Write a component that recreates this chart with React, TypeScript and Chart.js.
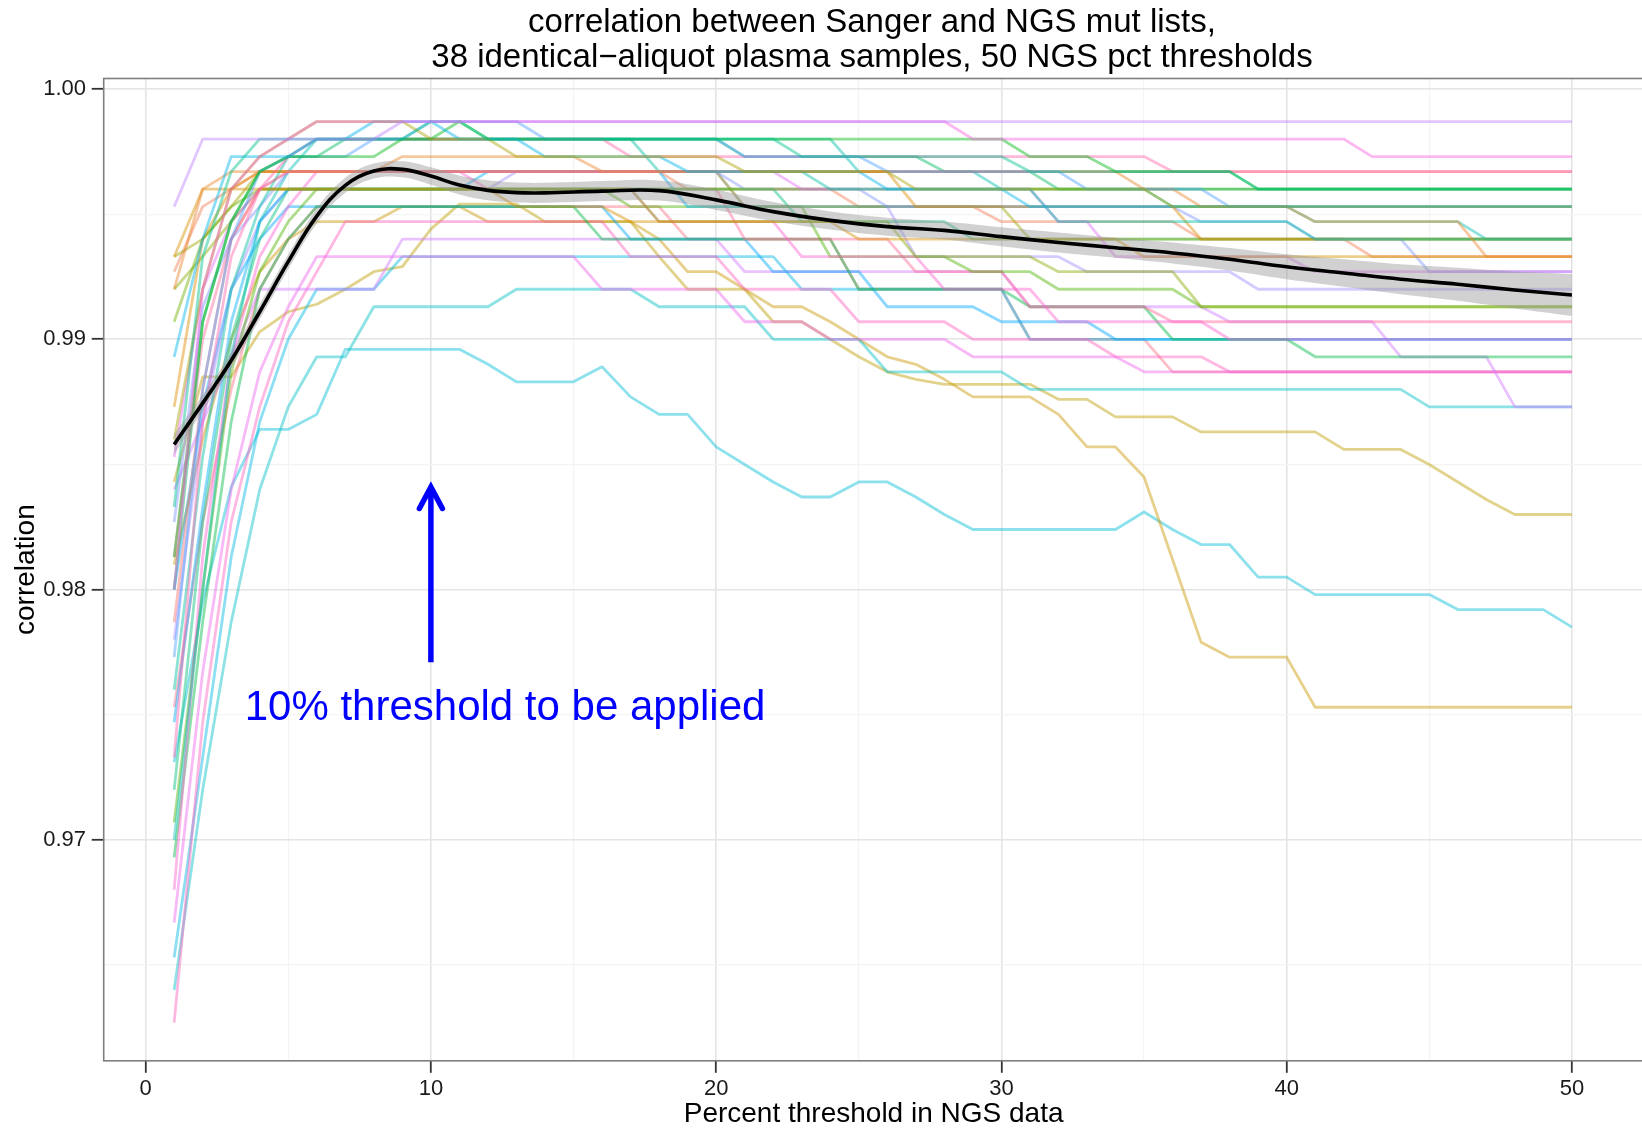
import React, { useEffect, useRef } from "react";
import { Chart, registerables } from "chart.js";

Chart.register(...registerables);

const FONT = '"Liberation Sans", Arial, Helvetica, sans-serif';

// ---------------- data ----------------
const thresholds = [
  1, 2, 3, 4, 5, 6, 7, 8, 9, 10, 11, 12, 13, 14, 15, 16, 17, 18, 19, 20,
  21, 22, 23, 24, 25, 26, 27, 28, 29, 30, 31, 32, 33, 34, 35, 36, 37, 38, 39, 40,
  41, 42, 43, 44, 45, 46, 47, 48, 49, 50,
];

const xTickValues = [0, 5, 10, 15, 20, 25, 30, 35, 40, 45, 50];
const xTickLabels = ["0", "", "10", "", "20", "", "30", "", "40", "", "50"];
const yTickValues = [0.965, 0.97, 0.975, 0.98, 0.985, 0.99, 0.995, 1.0];
const yTickLabels = ["", "0.97", "", "0.98", "", "0.99", "", "1.00"];

const titleLines = [
  "correlation between Sanger and NGS mut lists,",
  "38 identical\u2212aliquot plasma samples, 50 NGS pct thresholds",
];
const xAxisTitle = "Percent threshold in NGS data";
const yAxisTitle = "correlation";
const annotationText = "10% threshold to be applied";
const arrowX = 10;
const arrowYFrom = 0.9771;
const arrowYTo = 0.9841;
const annotationX = 12.6;
const annotationY = 0.9748;

const s01 = [0.9953,0.998,0.998,0.998,0.998,0.998,0.998,0.998,0.9987,0.9987,
  0.9987,0.9987,0.9987,0.9987,0.9987,0.9987,0.9987,0.9987,0.9987,0.9987,
  0.9987,0.9987,0.9987,0.9987,0.9987,0.9987,0.9987,0.9987,0.9987,0.9987,
  0.9987,0.9987,0.9987,0.9987,0.9987,0.9987,0.9987,0.9987,0.9987,0.9987,
  0.9987,0.9987,0.9987,0.9987,0.9987,0.9987,0.9987,0.9987,0.9987,0.9987];
const s02 = [0.98,0.992,0.996,0.9973,0.998,0.9987,0.9987,0.9987,0.9987,0.9987,
  0.9987,0.9987,0.9987,0.9987,0.9987,0.9987,0.9987,0.9987,0.9987,0.9987,
  0.9987,0.9987,0.9987,0.9987,0.9987,0.9987,0.9987,0.9987,0.998,0.998,
  0.998,0.998,0.998,0.998,0.998,0.998,0.998,0.998,0.998,0.998,
  0.998,0.998,0.9973,0.9973,0.9973,0.9973,0.9973,0.9973,0.9973,0.9973];
const s03 = [0.9833,0.9933,0.9967,0.998,0.998,0.998,0.998,0.998,0.998,0.9987,
  0.9987,0.998,0.998,0.998,0.998,0.998,0.998,0.998,0.998,0.998,
  0.998,0.998,0.9973,0.9973,0.9973,0.9973,0.9973,0.9973,0.9973,0.9973,
  0.9967,0.9967,0.9967,0.9967,0.9967,0.9967,0.9967,0.9967,0.996,0.996,
  0.996,0.996,0.996,0.996,0.996,0.996,0.996,0.996,0.996,0.996];
const s04 = [0.986,0.992,0.996,0.9973,0.998,0.9987,0.9987,0.9987,0.9987,0.998,
  0.998,0.998,0.9973,0.9973,0.9973,0.9973,0.9973,0.9973,0.9973,0.9973,
  0.9967,0.9967,0.9967,0.9967,0.9967,0.9967,0.996,0.996,0.996,0.996,
  0.996,0.996,0.996,0.996,0.996,0.9953,0.9953,0.9953,0.9953,0.9953,
  0.9953,0.9953,0.9953,0.9953,0.9953,0.9953,0.9953,0.9953,0.9953,0.9953];
const s05 = [0.9893,0.994,0.9973,0.9973,0.9973,0.998,0.998,0.9987,0.9987,0.9987,
  0.998,0.998,0.998,0.9973,0.9973,0.9973,0.9973,0.9973,0.9967,0.9967,
  0.9967,0.9967,0.9967,0.9967,0.9967,0.996,0.996,0.996,0.996,0.996,
  0.9953,0.9953,0.9953,0.9953,0.9953,0.9953,0.9953,0.9953,0.9953,0.9953,
  0.9953,0.9953,0.9953,0.9953,0.9953,0.9953,0.9953,0.9953,0.9953,0.9953];
const s06 = [0.9813,0.9907,0.9947,0.9967,0.9973,0.9973,0.9973,0.9973,0.998,0.998,
  0.9987,0.998,0.998,0.998,0.998,0.998,0.998,0.998,0.998,0.998,
  0.998,0.998,0.998,0.998,0.998,0.998,0.998,0.998,0.998,0.998,
  0.9973,0.9973,0.9973,0.9967,0.9967,0.9967,0.9967,0.9967,0.996,0.996,
  0.996,0.996,0.996,0.996,0.996,0.996,0.996,0.996,0.996,0.996];
const s07 = [0.9773,0.988,0.994,0.9967,0.9973,0.9973,0.9973,0.998,0.998,0.9987,
  0.9987,0.9987,0.9987,0.998,0.998,0.998,0.998,0.998,0.998,0.998,
  0.9973,0.9973,0.9973,0.9973,0.9973,0.9967,0.9967,0.9967,0.9967,0.9967,
  0.9967,0.9967,0.996,0.996,0.996,0.996,0.996,0.9953,0.9953,0.9953,
  0.9953,0.9953,0.9953,0.9953,0.9953,0.9953,0.9953,0.9953,0.9953,0.9953];
const s08 = [0.9733,0.9867,0.9933,0.996,0.9973,0.998,0.998,0.998,0.998,0.998,
  0.998,0.998,0.998,0.998,0.998,0.998,0.9973,0.9973,0.9973,0.9973,
  0.9973,0.9973,0.9973,0.9973,0.9973,0.9973,0.9973,0.9973,0.9973,0.9973,
  0.9973,0.9973,0.9973,0.9973,0.9973,0.9967,0.9967,0.9967,0.9967,0.9967,
  0.9967,0.9967,0.9967,0.9967,0.9967,0.9967,0.9967,0.9967,0.9967,0.9967];
const s09 = [0.9787,0.988,0.994,0.996,0.9967,0.9967,0.9967,0.9967,0.9967,0.9967,
  0.9967,0.9967,0.9967,0.9967,0.9967,0.9967,0.9967,0.9967,0.9967,0.9967,
  0.9967,0.9967,0.9967,0.9967,0.9967,0.9967,0.9967,0.9967,0.9967,0.9967,
  0.9967,0.9967,0.9967,0.9967,0.9967,0.9967,0.9967,0.9967,0.9967,0.9967,
  0.9967,0.9967,0.9967,0.9967,0.9967,0.9967,0.9967,0.9967,0.9967,0.9967];
const s10 = [0.992,0.996,0.9967,0.9967,0.9967,0.9967,0.9967,0.9967,0.9973,0.9973,
  0.9973,0.9973,0.9973,0.9973,0.9973,0.9967,0.9967,0.9967,0.9967,0.9967,
  0.9967,0.9967,0.9967,0.9967,0.9967,0.9967,0.9967,0.9967,0.9967,0.9967,
  0.9967,0.9967,0.9967,0.9967,0.996,0.996,0.9953,0.9953,0.9953,0.9953,
  0.9947,0.9947,0.9947,0.9947,0.9947,0.9947,0.9933,0.9933,0.9933,0.9933];
const s11 = [0.9933,0.996,0.996,0.996,0.996,0.996,0.996,0.996,0.996,0.996,
  0.996,0.996,0.9953,0.9953,0.9953,0.9953,0.9947,0.9947,0.9947,0.9947,
  0.9947,0.9947,0.9947,0.9947,0.994,0.994,0.994,0.994,0.994,0.994,
  0.994,0.994,0.994,0.994,0.9933,0.9933,0.9933,0.9933,0.9933,0.9933,
  0.9933,0.9933,0.9933,0.9933,0.9933,0.9933,0.9933,0.9933,0.9933,0.9933];
const s12 = [0.98,0.9907,0.9947,0.9967,0.9973,0.9973,0.998,0.998,0.998,0.998,
  0.998,0.998,0.998,0.998,0.998,0.998,0.998,0.998,0.998,0.998,
  0.9973,0.9973,0.9973,0.9973,0.9973,0.9973,0.9973,0.9967,0.9967,0.9967,
  0.9967,0.996,0.996,0.996,0.996,0.996,0.996,0.996,0.996,0.996,
  0.996,0.996,0.996,0.996,0.996,0.996,0.996,0.996,0.996,0.996];
const s13 = [0.976,0.9853,0.992,0.9953,0.9973,0.998,0.998,0.998,0.998,0.998,
  0.998,0.998,0.998,0.998,0.998,0.998,0.998,0.9967,0.9967,0.9967,
  0.9967,0.9967,0.9967,0.996,0.996,0.996,0.996,0.996,0.996,0.996,
  0.996,0.9947,0.9947,0.9947,0.9947,0.9947,0.9947,0.9947,0.9947,0.9947,
  0.994,0.994,0.994,0.994,0.994,0.994,0.994,0.994,0.994,0.994];
const s14 = [0.9853,0.992,0.9947,0.996,0.9967,0.9967,0.9967,0.9967,0.9967,0.9967,
  0.9967,0.9967,0.9967,0.9967,0.9967,0.9967,0.9967,0.9967,0.9967,0.9967,
  0.9967,0.9967,0.996,0.996,0.996,0.996,0.996,0.996,0.996,0.996,
  0.996,0.9947,0.9947,0.9933,0.9933,0.9933,0.9933,0.9933,0.9933,0.9933,
  0.9927,0.9927,0.9927,0.9927,0.9927,0.9927,0.9927,0.9927,0.9927,0.9927];
const s15 = [0.9907,0.994,0.9953,0.996,0.996,0.996,0.996,0.996,0.996,0.996,
  0.996,0.996,0.996,0.996,0.996,0.996,0.996,0.996,0.996,0.996,
  0.996,0.996,0.996,0.996,0.996,0.996,0.996,0.996,0.996,0.996,
  0.996,0.996,0.996,0.996,0.996,0.996,0.996,0.996,0.996,0.996,
  0.996,0.996,0.996,0.996,0.996,0.996,0.996,0.996,0.996,0.996];
const s16 = [0.9873,0.994,0.996,0.9967,0.9967,0.9967,0.9967,0.9967,0.9967,0.9967,
  0.9967,0.9967,0.9967,0.9967,0.9967,0.9967,0.9967,0.9967,0.9967,0.9967,
  0.9967,0.9967,0.9967,0.9967,0.9967,0.9967,0.9953,0.9953,0.9953,0.9953,
  0.9953,0.9953,0.9953,0.9953,0.9953,0.9953,0.994,0.994,0.994,0.994,
  0.994,0.994,0.994,0.994,0.994,0.994,0.994,0.994,0.994,0.994];
const s17 = [0.9827,0.9913,0.994,0.9953,0.9967,0.9967,0.9967,0.9967,0.9967,0.9967,
  0.9967,0.9967,0.9967,0.9967,0.9967,0.9967,0.9967,0.9967,0.9967,0.9967,
  0.996,0.996,0.996,0.996,0.996,0.9953,0.9953,0.9953,0.9953,0.9953,
  0.9953,0.9953,0.9953,0.9953,0.9953,0.9953,0.9947,0.9947,0.9947,0.9947,
  0.994,0.994,0.994,0.994,0.9927,0.9927,0.9927,0.9927,0.9927,0.9927];
const s18 = [0.97,0.98,0.9893,0.9947,0.9967,0.998,0.998,0.998,0.998,0.998,
  0.998,0.998,0.998,0.998,0.998,0.998,0.998,0.998,0.998,0.998,
  0.998,0.998,0.998,0.998,0.9967,0.9967,0.9967,0.9967,0.9967,0.996,
  0.996,0.996,0.996,0.996,0.996,0.9953,0.9953,0.9953,0.9953,0.9953,
  0.9947,0.9947,0.9947,0.9947,0.9947,0.9947,0.994,0.994,0.994,0.994];
const s19 = [0.9933,0.994,0.9953,0.9967,0.9967,0.9967,0.9967,0.9967,0.9967,0.9967,
  0.9967,0.9967,0.9967,0.9967,0.9967,0.9967,0.9967,0.9967,0.9967,0.9967,
  0.9953,0.9953,0.9953,0.9953,0.9953,0.9953,0.9953,0.9953,0.9953,0.9953,
  0.994,0.994,0.994,0.994,0.994,0.994,0.994,0.994,0.994,0.994,
  0.994,0.994,0.994,0.994,0.994,0.994,0.994,0.994,0.994,0.994];
const s20 = [0.992,0.9933,0.9947,0.996,0.996,0.996,0.996,0.996,0.996,0.996,
  0.996,0.996,0.996,0.996,0.996,0.996,0.996,0.9947,0.9947,0.9947,
  0.9947,0.9947,0.9947,0.9947,0.9947,0.9947,0.9933,0.9933,0.9933,0.9933,
  0.9933,0.9927,0.9927,0.9927,0.9927,0.9927,0.9913,0.9913,0.9913,0.9913,
  0.9913,0.9913,0.9913,0.9913,0.9913,0.9913,0.9913,0.9913,0.9913,0.9913];
const s21 = [0.9747,0.9833,0.9907,0.9947,0.996,0.996,0.996,0.996,0.996,0.996,
  0.996,0.9967,0.9967,0.9967,0.9967,0.9967,0.9967,0.9967,0.9953,0.9953,
  0.9953,0.9953,0.9953,0.9953,0.9953,0.9953,0.9953,0.9953,0.9953,0.9953,
  0.9953,0.9953,0.9953,0.9953,0.9953,0.9953,0.9953,0.9953,0.9953,0.9953,
  0.9953,0.9953,0.9953,0.9953,0.9953,0.9953,0.9953,0.9953,0.9953,0.9953];
const s22 = [0.968,0.9813,0.9893,0.9933,0.9953,0.9967,0.9967,0.9967,0.9967,0.9967,
  0.9967,0.996,0.996,0.996,0.996,0.996,0.996,0.9947,0.9947,0.9947,
  0.9947,0.9947,0.9933,0.9933,0.9933,0.9933,0.9933,0.992,0.992,0.992,
  0.992,0.9907,0.9907,0.9907,0.9907,0.9907,0.9907,0.99,0.99,0.99,
  0.99,0.99,0.99,0.99,0.99,0.99,0.99,0.99,0.99,0.99];
const s23 = [0.972,0.9827,0.99,0.994,0.996,0.996,0.996,0.996,0.996,0.996,
  0.996,0.996,0.996,0.996,0.996,0.996,0.996,0.996,0.996,0.996,
  0.996,0.996,0.9947,0.9947,0.9947,0.9947,0.9947,0.9947,0.994,0.994,
  0.994,0.994,0.994,0.994,0.994,0.994,0.994,0.994,0.994,0.994,
  0.994,0.994,0.994,0.994,0.994,0.994,0.994,0.994,0.994,0.994];
const s24 = [0.978,0.9867,0.992,0.9947,0.996,0.996,0.996,0.996,0.996,0.996,
  0.996,0.996,0.9967,0.9967,0.9967,0.9967,0.9967,0.9967,0.9967,0.9967,
  0.9953,0.9953,0.9953,0.9953,0.9953,0.9953,0.9933,0.9933,0.9933,0.9933,
  0.9933,0.9933,0.9927,0.9927,0.9927,0.9927,0.9927,0.9927,0.992,0.992,
  0.992,0.992,0.992,0.992,0.992,0.992,0.992,0.992,0.992,0.992];
const s25 = [0.9707,0.98,0.9887,0.9927,0.9947,0.996,0.996,0.996,0.996,0.996,
  0.996,0.996,0.996,0.996,0.996,0.996,0.9953,0.9953,0.9953,0.9953,
  0.9953,0.9953,0.9953,0.9933,0.9933,0.9933,0.9933,0.9933,0.9927,0.9927,
  0.9927,0.992,0.992,0.992,0.992,0.992,0.9913,0.9913,0.9913,0.9913,
  0.9913,0.9913,0.9913,0.9913,0.9913,0.9913,0.9913,0.9913,0.9913,0.9913];
const s26 = [0.9813,0.99,0.994,0.996,0.996,0.996,0.996,0.996,0.996,0.996,
  0.996,0.996,0.996,0.996,0.996,0.996,0.996,0.996,0.996,0.996,
  0.994,0.994,0.994,0.994,0.994,0.994,0.9927,0.9927,0.9927,0.9927,
  0.9913,0.9913,0.9913,0.9913,0.9913,0.9907,0.9907,0.9907,0.9907,0.9907,
  0.9907,0.9907,0.9907,0.9907,0.9907,0.9907,0.9907,0.9907,0.9907,0.9907];
const s27 = [0.9693,0.9787,0.9867,0.992,0.994,0.9953,0.9953,0.9953,0.9953,0.9953,
  0.9953,0.9953,0.9953,0.9953,0.9953,0.994,0.994,0.994,0.994,0.994,
  0.994,0.994,0.994,0.994,0.992,0.992,0.992,0.992,0.992,0.992,
  0.9913,0.9913,0.9913,0.9913,0.9913,0.99,0.99,0.99,0.99,0.99,
  0.9893,0.9893,0.9893,0.9893,0.9893,0.9893,0.9893,0.9893,0.9893,0.9893];
const s28 = [0.98,0.9873,0.992,0.994,0.9953,0.9953,0.9953,0.9953,0.9953,0.9953,
  0.9953,0.9953,0.9953,0.9953,0.9953,0.9953,0.994,0.994,0.994,0.994,
  0.994,0.9927,0.9927,0.9927,0.9927,0.9913,0.9913,0.9913,0.9913,0.9907,
  0.9907,0.9907,0.9907,0.99,0.99,0.99,0.99,0.99,0.99,0.99,
  0.99,0.99,0.99,0.99,0.99,0.99,0.99,0.99,0.99,0.99];
const s29 = [0.984,0.9867,0.9893,0.992,0.992,0.992,0.992,0.992,0.994,0.994,
  0.994,0.994,0.994,0.994,0.994,0.994,0.994,0.994,0.994,0.994,
  0.9927,0.9927,0.9927,0.9927,0.9927,0.9927,0.9927,0.9927,0.9927,0.9927,
  0.9913,0.9913,0.9913,0.9913,0.9913,0.9913,0.9913,0.9907,0.9907,0.9907,
  0.9907,0.9907,0.9907,0.9893,0.9893,0.9893,0.9893,0.9873,0.9873,0.9873];
const s30 = [0.9667,0.9767,0.984,0.9887,0.9913,0.9933,0.9933,0.9933,0.9933,0.9933,
  0.9933,0.9933,0.9933,0.9933,0.9933,0.992,0.992,0.992,0.992,0.992,
  0.9907,0.9907,0.9907,0.99,0.99,0.99,0.99,0.99,0.9893,0.9893,
  0.9893,0.9893,0.9893,0.9893,0.9887,0.9887,0.9887,0.9887,0.9887,0.9887,
  0.9887,0.9887,0.9887,0.9887,0.9887,0.9887,0.9887,0.9887,0.9887,0.9887];
const s31 = [0.9627,0.9747,0.9827,0.9873,0.9907,0.9927,0.9947,0.9947,0.9947,0.9947,
  0.9947,0.9947,0.9947,0.9947,0.9947,0.9947,0.9933,0.9933,0.9933,0.9933,
  0.992,0.992,0.992,0.992,0.9907,0.9907,0.9907,0.9907,0.99,0.99,
  0.99,0.99,0.99,0.9893,0.9893,0.9893,0.9893,0.9887,0.9887,0.9887,
  0.9887,0.9887,0.9887,0.9887,0.9887,0.9887,0.9887,0.9887,0.9887,0.9887];
const s32 = [0.9653,0.9733,0.9813,0.9867,0.99,0.992,0.992,0.992,0.9933,0.9933,
  0.9933,0.9933,0.9933,0.9933,0.9933,0.9933,0.9933,0.9933,0.9933,0.9933,
  0.9933,0.9933,0.992,0.992,0.992,0.992,0.992,0.992,0.992,0.992,
  0.99,0.99,0.99,0.99,0.99,0.99,0.99,0.99,0.99,0.99,
  0.99,0.99,0.99,0.99,0.99,0.99,0.99,0.99,0.99,0.99];
const s33 = [0.9753,0.9827,0.988,0.992,0.994,0.9953,0.9953,0.9953,0.9953,0.9953,
  0.9953,0.9953,0.9953,0.9953,0.9953,0.9953,0.9953,0.9953,0.994,0.994,
  0.994,0.994,0.994,0.994,0.992,0.992,0.992,0.992,0.992,0.992,
  0.99,0.99,0.99,0.99,0.99,0.9887,0.9887,0.9887,0.9887,0.9887,
  0.9887,0.9887,0.9887,0.9887,0.9887,0.9887,0.9887,0.9887,0.9887,0.9887];
const s34 = [0.964,0.972,0.9787,0.984,0.9873,0.9893,0.9893,0.9913,0.9913,0.9913,
  0.9913,0.9913,0.992,0.992,0.992,0.992,0.992,0.9913,0.9913,0.9913,
  0.9913,0.99,0.99,0.99,0.99,0.9887,0.9887,0.9887,0.9887,0.9887,
  0.988,0.988,0.988,0.988,0.988,0.988,0.988,0.988,0.988,0.988,
  0.988,0.988,0.988,0.988,0.9873,0.9873,0.9873,0.9873,0.9873,0.9873];
const s35 = [0.9927,0.9953,0.996,0.9967,0.9967,0.9967,0.9967,0.9967,0.9967,0.9967,
  0.9967,0.9967,0.9967,0.9967,0.9967,0.9967,0.9967,0.9967,0.996,0.996,
  0.996,0.996,0.996,0.996,0.9953,0.9953,0.9953,0.9953,0.9953,0.9947,
  0.9947,0.9947,0.9947,0.9947,0.9947,0.9947,0.994,0.994,0.994,0.994,
  0.994,0.994,0.9933,0.9933,0.9933,0.9933,0.9933,0.9933,0.9933,0.9933];
const s36 = [0.9843,0.9885,0.9885,0.9903,0.9911,0.9914,0.992,0.9927,0.9929,0.9944,
  0.9954,0.9954,0.9954,0.9947,0.9947,0.9947,0.9947,0.9933,0.992,0.992,
  0.992,0.9907,0.9907,0.99,0.9893,0.9887,0.9884,0.9882,0.9882,0.9882,
  0.9882,0.9876,0.9876,0.9869,0.9869,0.9869,0.9863,0.9863,0.9863,0.9863,
  0.9863,0.9856,0.9856,0.9856,0.985,0.9843,0.9836,0.983,0.983,0.983];
const s37 = [0.981,0.986,0.99,0.9927,0.994,0.9947,0.9947,0.9947,0.9953,0.9953,
  0.9953,0.9947,0.9947,0.9947,0.9947,0.9947,0.9947,0.994,0.9927,0.9927,
  0.992,0.9913,0.9913,0.9907,0.99,0.9893,0.989,0.9884,0.9877,0.9877,
  0.9877,0.987,0.9857,0.9857,0.9845,0.9812,0.9779,0.9773,0.9773,0.9773,
  0.9753,0.9753,0.9753,0.9753,0.9753,0.9753,0.9753,0.9753,0.9753,0.9753];
const s38 = [0.9731,0.9795,0.9841,0.9864,0.9864,0.987,0.9896,0.9896,0.9896,0.9896,
  0.9896,0.989,0.9883,0.9883,0.9883,0.9889,0.9877,0.987,0.987,0.9857,
  0.985,0.9843,0.9837,0.9837,0.9843,0.9843,0.9837,0.983,0.9824,0.9824,
  0.9824,0.9824,0.9824,0.9824,0.9831,0.9824,0.9818,0.9818,0.9805,0.9805,
  0.9798,0.9798,0.9798,0.9798,0.9798,0.9792,0.9792,0.9792,0.9792,0.9785];

const sampleSeries = [
  s01, s02, s03, s04, s05, s06, s07, s08, s09, s10, s11, s12, s13, s14, s15, s16, s17, s18, s19,
  s20, s21, s22, s23, s24, s25, s26, s27, s28, s29, s30, s31, s32, s33, s34, s35, s36, s37, s38,
];
const sampleHueIndex = [
  28, 32, 16, 7, 22, 12, 25, 35, 0, 2, 4, 14, 17, 30, 10, 3, 26, 18, 8,
  9, 23, 33, 15, 27, 11, 36, 13, 24, 29, 31, 34, 21, 37, 19, 1, 6, 5, 20,
];

// loess smooth and its confidence band
const smoothX = [1, 2, 3, 4, 5, 6, 7, 8, 9, 10, 11, 12, 13, 14, 16, 18, 20, 22, 24, 26, 28, 30, 32, 34, 36, 38, 40, 42, 44, 46, 48, 50];
const smoothY = [0.9858, 0.98745, 0.98915, 0.9911, 0.9931, 0.99492, 0.99615, 0.99672, 0.99679, 0.99652, 0.99616, 0.99595, 0.99586, 0.99585, 0.99592, 0.99594, 0.99557, 0.9951, 0.99475, 0.9945, 0.99435, 0.9941, 0.99387, 0.99366, 0.99345, 0.9932, 0.9929, 0.99265, 0.9924, 0.9922, 0.99197, 0.99177];
const smoothLo = [0.9854, 0.98712, 0.98885, 0.9908, 0.9928, 0.99462, 0.99585, 0.99642, 0.99647, 0.99617, 0.99578, 0.99555, 0.99546, 0.99545, 0.99552, 0.99554, 0.99517, 0.99472, 0.99439, 0.99414, 0.99399, 0.99372, 0.99347, 0.99326, 0.99303, 0.99275, 0.9924, 0.9921, 0.9918, 0.99154, 0.99123, 0.99093];
const smoothHi = [0.9862, 0.98778, 0.98945, 0.9914, 0.9934, 0.99522, 0.99645, 0.99702, 0.99711, 0.99687, 0.99654, 0.99635, 0.99626, 0.99625, 0.99632, 0.99634, 0.99597, 0.99548, 0.99511, 0.99486, 0.99471, 0.99448, 0.99427, 0.99406, 0.99387, 0.99365, 0.9934, 0.9932, 0.993, 0.99286, 0.99271, 0.99261];

// ---------------- styling helpers ----------------
function hueColor(index: number, count: number, alpha: number): string {
  const h = 15 + (360 * index) / count;
  const c = 100;
  const l = 65;
  const hr = (h * Math.PI) / 180;
  const u = c * Math.cos(hr);
  const v = c * Math.sin(hr);
  const Y = Math.pow((l + 16) / 116, 3);
  const un = 0.19783982482140777;
  const vn = 0.46833630293240974;
  const up = u / (13 * l) + un;
  const vp = v / (13 * l) + vn;
  const X = (Y * 9 * up) / (4 * vp);
  const Z = (Y * (12 - 3 * up - 20 * vp)) / (4 * vp);
  const lin = [
    3.2404542 * X - 1.5371385 * Y - 0.4985314 * Z,
    -0.969266 * X + 1.8760108 * Y + 0.041556 * Z,
    0.0556434 * X - 0.2040259 * Y + 1.0572252 * Z,
  ];
  const rgb = lin.map((cc) => {
    const g = cc <= 0.0031308 ? 12.92 * cc : 1.055 * Math.pow(cc, 1 / 2.4) - 0.055;
    return Math.round(255 * Math.min(1, Math.max(0, g)));
  });
  return `rgba(${rgb[0]},${rgb[1]},${rgb[2]},${alpha})`;
}

const isMajorX = (v: number) => Math.abs(v / 10 - Math.round(v / 10)) < 1e-6;
const isMajorY = (v: number) => Math.abs(v * 100 - Math.round(v * 100)) < 1e-6;

const overlayPlugin = {
  id: "overlay",
  afterDatasetsDraw(chart: any) {
    const { ctx, chartArea, scales } = chart;
    const xs = scales.x;
    const ys = scales.y;
    ctx.save();
    // panel border
    ctx.strokeStyle = "#7f7f7f";
    ctx.lineWidth = 1.6;
    ctx.strokeRect(chartArea.left, chartArea.top, chartArea.right - chartArea.left, chartArea.bottom - chartArea.top);

    // arrow
    const ax = xs.getPixelForValue(arrowX);
    const ay0 = ys.getPixelForValue(arrowYFrom);
    const ay1 = ys.getPixelForValue(arrowYTo);
    ctx.strokeStyle = "#0000ff";
    ctx.lineWidth = 5.5;
    ctx.lineCap = "butt";
    ctx.beginPath();
    ctx.moveTo(ax, ay0);
    ctx.lineTo(ax, ay1 + 3);
    ctx.stroke();
    ctx.lineCap = "round";
    ctx.lineJoin = "miter";
    ctx.beginPath();
    ctx.moveTo(ax - 11.5, ay1 + 21.5);
    ctx.lineTo(ax, ay1);
    ctx.lineTo(ax + 11.5, ay1 + 21.5);
    ctx.stroke();

    // annotation text
    ctx.fillStyle = "#0000ff";
    ctx.font = `42px ${FONT}`;
    ctx.textAlign = "center";
    ctx.textBaseline = "alphabetic";
    ctx.fillText(annotationText, xs.getPixelForValue(annotationX), ys.getPixelForValue(annotationY));
    ctx.restore();
  },
  afterDraw(chart: any) {
    const { ctx } = chart;
    ctx.save();
    ctx.fillStyle = "#000000";
    ctx.font = `33px ${FONT}`;
    ctx.textAlign = "center";
    ctx.textBaseline = "alphabetic";
    ctx.fillText(titleLines[0], 872, 32);
    ctx.fillText(titleLines[1], 872, 67);
    ctx.restore();
  },
};

export default function App() {
  const canvasRef = useRef<HTMLCanvasElement | null>(null);

  useEffect(() => {
    const canvas = canvasRef.current;
    if (!canvas) return;

    const sampleDatasets = sampleSeries.map((series, k) => ({
      label: `sample ${k + 1}`,
      data: series.map((v, i) => ({ x: thresholds[i], y: v })),
      borderColor: hueColor(sampleHueIndex[k], 38, 0.45),
      backgroundColor: "rgba(0,0,0,0)",
      borderWidth: 2.8,
      pointRadius: 0,
      tension: 0,
      fill: false,
      borderJoinStyle: "round" as const,
      order: 10,
    }));

    const chart = new Chart(canvas, {
      type: "line",
      data: {
        datasets: [
          ...sampleDatasets,
          {
            label: "lower",
            data: smoothLo.map((v, i) => ({ x: smoothX[i], y: v })),
            borderColor: "rgba(0,0,0,0)",
            borderWidth: 1,
            pointRadius: 0,
            fill: false,
            tension: 0.4,
            order: 5,
          },
          {
            label: "upper",
            data: smoothHi.map((v, i) => ({ x: smoothX[i], y: v })),
            borderColor: "rgba(0,0,0,0)",
            backgroundColor: "rgba(153,153,153,0.45)",
            borderWidth: 1,
            pointRadius: 0,
            fill: "-1",
            tension: 0.4,
            order: 5,
          },
          {
            label: "smooth",
            data: smoothY.map((v, i) => ({ x: smoothX[i], y: v })),
            borderColor: "#000000",
            borderWidth: 3.6,
            pointRadius: 0,
            fill: false,
            tension: 0.4,
            order: 0,
          },
        ] as any,
      },
      options: {
        responsive: false,
        maintainAspectRatio: false,
        devicePixelRatio: 1,
        animation: false,
        events: [],
        layout: { padding: { top: 78.5, right: 6.5, bottom: 0, left: 0 } },
        plugins: {
          legend: { display: false },
          tooltip: { enabled: false },
          title: { display: false },
        },
        scales: {
          x: {
            type: "linear",
            min: -1.47,
            max: 52.51,
            afterBuildTicks: (s: any) => {
              s.ticks = xTickValues.map((v) => ({ value: v }));
            },
            afterFit: (s: any) => {
              s.height = 67.2;
            },
            ticks: {
              autoSkip: false,
              maxRotation: 0,
              padding: 3,
              color: "#1a1a1a",
              font: { family: FONT, size: 22 },
              callback: (value: any) => {
                const i = xTickValues.findIndex((t) => Math.abs(t - Number(value)) < 1e-9);
                return i >= 0 ? xTickLabels[i] : "";
              },
            },
            grid: {
              color: (c: any) => (c.tick && isMajorX(c.tick.value) ? "#e4e4e4" : "#f4f4f4"),
              lineWidth: (c: any) => (c.tick && isMajorX(c.tick.value) ? 1.6 : 1.2),
              tickColor: (c: any) => (c.tick && isMajorX(c.tick.value) ? "#333333" : "rgba(0,0,0,0)"),
              tickLength: 12,
              tickWidth: 1.8,
              drawTicks: true,
            },
            border: { display: false },
            title: {
              display: true,
              text: xAxisTitle,
              color: "#000000",
              font: { family: FONT, size: 28, lineHeight: 1 },
              padding: 0,
            },
          },
          y: {
            type: "linear",
            min: 0.961174,
            max: 1.000419,
            afterBuildTicks: (s: any) => {
              s.ticks = yTickValues.map((v) => ({ value: v }));
            },
            afterFit: (s: any) => {
              s.width = 103.7;
            },
            ticks: {
              autoSkip: false,
              padding: 5.7,
              color: "#1a1a1a",
              font: { family: FONT, size: 22 },
              callback: (value: any) => {
                const i = yTickValues.findIndex((t) => Math.abs(t - Number(value)) < 1e-9);
                return i >= 0 ? yTickLabels[i] : "";
              },
            },
            grid: {
              color: (c: any) => (c.tick && isMajorY(c.tick.value) ? "#e4e4e4" : "#f4f4f4"),
              lineWidth: (c: any) => (c.tick && isMajorY(c.tick.value) ? 1.6 : 1.2),
              tickColor: (c: any) => (c.tick && isMajorY(c.tick.value) ? "#333333" : "rgba(0,0,0,0)"),
              tickLength: 12,
              tickWidth: 1.8,
              drawTicks: true,
            },
            border: { display: false },
            title: {
              display: true,
              text: yAxisTitle,
              color: "#000000",
              font: { family: FONT, size: 28, lineHeight: 1 },
              padding: { top: 12.5, bottom: 0 },
            },
          },
        },
      } as any,
      plugins: [overlayPlugin],
    });

    return () => chart.destroy();
  }, []);

  return (
    <div style={{ position: "fixed", left: 0, top: 0, width: 1650, height: 1128, background: "#ffffff" }}>
      <canvas ref={canvasRef} width={1650} height={1128} style={{ display: "block", width: 1650, height: 1128 }} />
    </div>
  );
}
